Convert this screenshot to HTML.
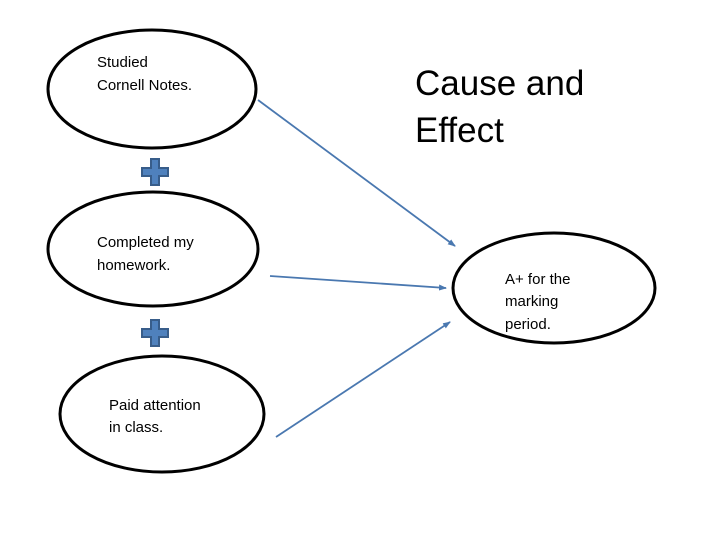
<!DOCTYPE html>
<html><head><style>
body{margin:0;background:#fff}
svg text{font-family:"Liberation Sans",sans-serif}
</style></head><body>
<svg width="720" height="540" viewBox="0 0 720 540" xmlns="http://www.w3.org/2000/svg">
<defs><marker id="a" markerWidth="8" markerHeight="6" refX="7" refY="3" orient="auto" markerUnits="userSpaceOnUse"><path d="M0,0 L8,3 L0,6 z" fill="#4a78b0"/></marker></defs>
<g fill="none" stroke="#000" stroke-width="3">
<ellipse cx="152" cy="89" rx="104" ry="59"/>
<ellipse cx="153" cy="249" rx="105" ry="57"/>
<ellipse cx="162" cy="414" rx="102" ry="58"/>
<ellipse cx="554" cy="288" rx="101" ry="55"/>
</g>
<g fill="#4f81bd" stroke="#385d8a" stroke-width="2">
<path d="M151,159h8v9h9v8h-9v9h-8v-9h-9v-8h9z"/>
<path d="M151,320h8v9h9v8h-9v9h-8v-9h-9v-8h9z"/>
</g>
<g stroke="#4a78b0" stroke-width="1.8" marker-end="url(#a)">
<line x1="258" y1="100" x2="455" y2="246"/>
<line x1="270" y1="276" x2="446" y2="288"/>
<line x1="276" y1="437" x2="450" y2="322"/>
</g>
<g font-size="15" fill="#000">
<text x="97" y="67">Studied</text><text x="97" y="90">Cornell Notes.</text>
<text x="97" y="247">Completed my</text><text x="97" y="270">homework.</text>
<text x="109" y="410">Paid attention</text><text x="109" y="432">in class.</text>
<text x="505" y="284">A+ for the</text><text x="505" y="306">marking</text><text x="505" y="329">period.</text>
</g>
<g font-size="35" fill="#000">
<text x="415" y="95">Cause and</text><text x="415" y="142">Effect</text>
</g>
</svg>
</body></html>
